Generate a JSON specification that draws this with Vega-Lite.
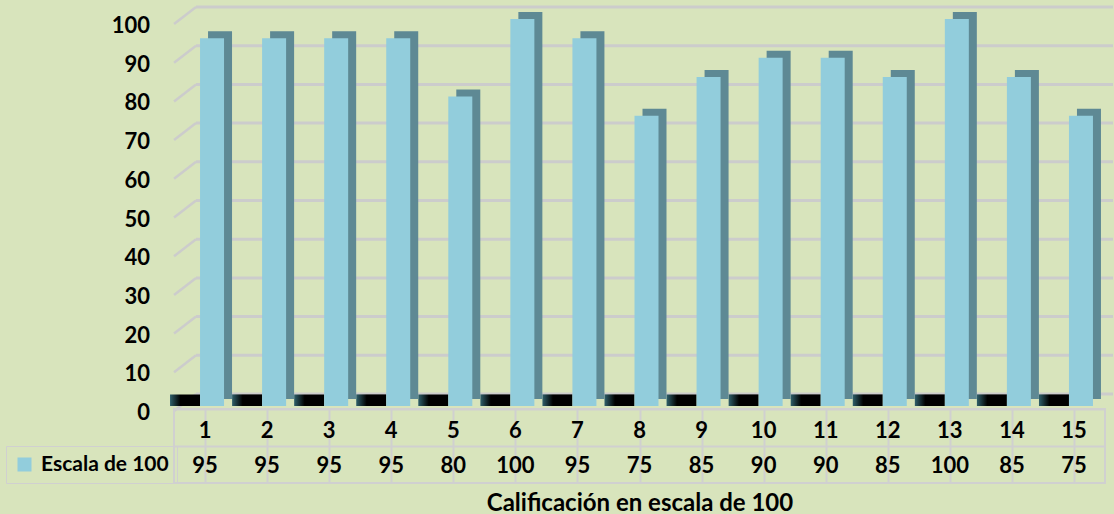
{
  "$schema": "https://vega.github.io/schema/vega-lite/v6.json",
  "background": "#d8e4bc",
  "padding": {"left": 5, "top": 5, "right": 0, "bottom": 0},
  "datasets": {
    "bars": [
      {"cat": 1, "val": 95, "serie": "Escala de 100"},
      {"cat": 2, "val": 95, "serie": "Escala de 100"},
      {"cat": 3, "val": 95, "serie": "Escala de 100"},
      {"cat": 4, "val": 95, "serie": "Escala de 100"},
      {"cat": 5, "val": 80, "serie": "Escala de 100"},
      {"cat": 6, "val": 100, "serie": "Escala de 100"},
      {"cat": 7, "val": 95, "serie": "Escala de 100"},
      {"cat": 8, "val": 75, "serie": "Escala de 100"},
      {"cat": 9, "val": 85, "serie": "Escala de 100"},
      {"cat": 10, "val": 90, "serie": "Escala de 100"},
      {"cat": 11, "val": 90, "serie": "Escala de 100"},
      {"cat": 12, "val": 85, "serie": "Escala de 100"},
      {"cat": 13, "val": 100, "serie": "Escala de 100"},
      {"cat": 14, "val": 85, "serie": "Escala de 100"},
      {"cat": 15, "val": 75, "serie": "Escala de 100"}
    ],
    "ticks": [
      {"g": 0}, {"g": 10}, {"g": 20}, {"g": 30}, {"g": 40}, {"g": 50},
      {"g": 60}, {"g": 70}, {"g": 80}, {"g": 90}, {"g": 100}
    ]
  },
  "config": {
    "font": "Lato",
    "view": {"stroke": null},
    "axis": {
      "labelFont": "Lato", "labelFontWeight": "bold", "labelColor": "#000000",
      "titleFont": "Lato", "titleFontWeight": "bold", "titleColor": "#000000"
    }
  },
  "bounds": "flush",
  "spacing": 3,
  "resolve": {"scale": {"color": "independent"}, "legend": {"color": "independent"}},
  "vconcat": [
    {
      "width": 931,
      "height": 387,
      "layer": [
        {
          "data": {"name": "ticks"},
          "mark": {"type": "rule", "color": "#cccccc", "strokeWidth": 2.5, "xOffset": -31, "x2Offset": -9, "yOffset": 5, "y2Offset": -12},
          "encoding": {
            "x": {"datum": 1, "type": "ordinal", "axis": null},
            "x2": {"datum": 1},
            "y": {"field": "g", "type": "quantitative", "axis": null},
            "y2": {"field": "g"}
          }
        },
        {
          "data": {"name": "ticks"},
          "mark": {"type": "rule", "color": "#cccccc", "strokeWidth": 3, "xOffset": -9, "x2Offset": 39, "yOffset": -12},
          "encoding": {
            "x": {"datum": 1, "type": "ordinal", "axis": null},
            "x2": {"datum": 15},
            "y": {"field": "g", "type": "quantitative", "axis": null}
          }
        },
        {
          "data": {"name": "ticks"},
          "mark": {"type": "text", "align": "right", "baseline": "middle", "font": "Lato", "fontWeight": "bold", "fontSize": 22, "color": "#000000", "xOffset": -55, "yOffset": 7},
          "encoding": {
            "x": {"datum": 1, "type": "ordinal", "axis": null},
            "y": {"field": "g", "type": "quantitative", "axis": null},
            "text": {"field": "g"}
          }
        },
        {
          "data": {"name": "bars"},
          "mark": {"type": "bar", "width": 30, "xOffset": -20,
                   "color": {"gradient": "linear", "x1": 0, "x2": 1, "y1": 0, "y2": 0,
                             "stops": [{"offset": 0, "color": "#2f5f6a"}, {"offset": 0.35, "color": "#000000"}, {"offset": 1, "color": "#000000"}]}},
          "encoding": {
            "x": {"field": "cat", "type": "ordinal", "axis": null, "scale": {"paddingInner": 0, "paddingOuter": 0}},
            "y": {"datum": 3, "type": "quantitative", "axis": null}
          }
        },
        {
          "data": {"name": "bars"},
          "mark": {"type": "bar", "width": 24, "xOffset": 15, "yOffset": -7, "color": "#5e8994"},
          "encoding": {
            "x": {"field": "cat", "type": "ordinal", "axis": null},
            "y": {"field": "val", "type": "quantitative", "axis": null}
          }
        },
        {
          "data": {"name": "bars"},
          "mark": {"type": "bar", "width": 24, "xOffset": 7},
          "encoding": {
            "x": {"field": "cat", "type": "ordinal", "axis": null},
            "y": {"field": "val", "type": "quantitative", "axis": null, "scale": {"domain": [0, 100]}},
            "color": {
              "field": "serie", "type": "nominal",
              "scale": {"range": ["#92cddc"]},
              "legend": {
                "orient": "none", "legendX": -168, "legendY": 427, "title": null,
                "symbolType": "square", "symbolSize": 196, "symbolStrokeWidth": 0,
                "labelFont": "Lato", "labelFontWeight": "bold", "labelFontSize": 21, "labelColor": "#000000",
                "labelOffset": 6, "padding": 8, "strokeColor": "#d0d0d0", "labelLimit": 300
              }
            }
          }
        }
      ]
    },
    {
      "width": 931,
      "height": 74,
      "view": {"stroke": "#d0d0d0", "strokeWidth": 2},
      "data": {"name": "bars"},
      "encoding": {
        "x": {
          "field": "cat", "type": "ordinal",
          "scale": {"paddingInner": 0, "paddingOuter": 0},
          "axis": {"labels": false, "ticks": false, "domain": false, "grid": true, "bandPosition": 0,
                   "gridColor": "#d0d0d0", "gridWidth": 2,
                   "title": "Calificación en escala de 100", "titleFontSize": 24, "titlePadding": 8}
        }
      },
      "layer": [
        {
          "mark": {"type": "text", "font": "Lato", "fontWeight": "bold", "fontSize": 22, "color": "#000000", "dy": 3},
          "encoding": {
            "y": {"datum": "cat", "type": "nominal",
                  "scale": {"type": "band", "domain": ["cat", "val"], "paddingInner": 0, "paddingOuter": 0},
                  "axis": {"labels": false, "ticks": false, "domain": false, "grid": true, "bandPosition": 0, "gridColor": "#d0d0d0", "gridWidth": 2, "title": null}},
            "text": {"field": "cat"}
          }
        },
        {
          "mark": {"type": "text", "font": "Lato", "fontWeight": "bold", "fontSize": 22, "color": "#000000", "dy": 1},
          "encoding": {
            "y": {"datum": "val", "type": "nominal"},
            "text": {"field": "val"}
          }
        }
      ]
    }
  ]
}
